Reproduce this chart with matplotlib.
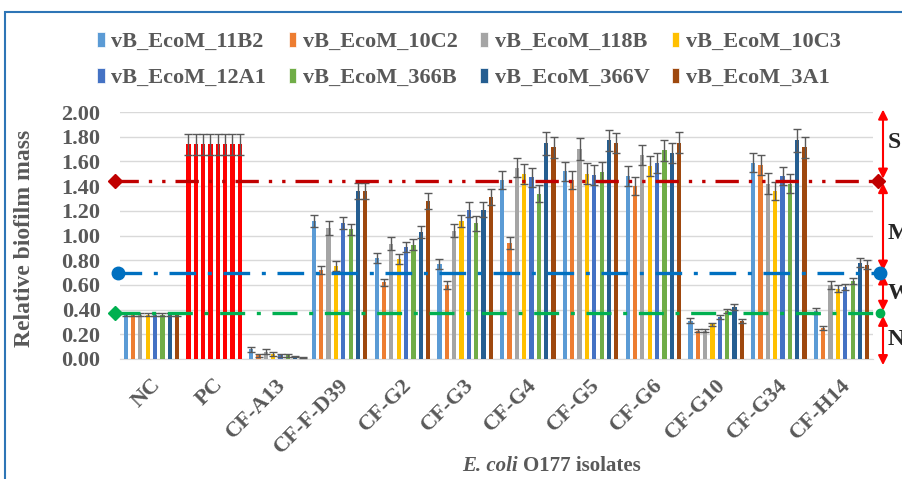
import matplotlib
matplotlib.use('Agg')
import matplotlib.pyplot as plt
import numpy as np
from matplotlib.transforms import ScaledTranslation, blended_transform_factory
from matplotlib.patches import Rectangle, Patch

plt.rcParams['font.family'] = ['Liberation Serif', 'DejaVu Serif']
plt.rcParams['font.weight'] = 'bold'

categories = ["NC", "PC", "CF-A13", "CF-F-D39", "CF-G2", "CF-G3", "CF-G4",
              "CF-G5", "CF-G6", "CF-G10", "CF-G34", "CF-H14"]
series_names = ["vB_EcoM_11B2", "vB_EcoM_10C2", "vB_EcoM_118B", "vB_EcoM_10C3",
                "vB_EcoM_12A1", "vB_EcoM_366B", "vB_EcoM_366V", "vB_EcoM_3A1"]
series_colors = ["#5B9BD5", "#ED7D31", "#A5A5A5", "#FFC000",
                 "#4472C4", "#70AD47", "#255E91", "#9E480E"]
pc_color = "#FF0000"

v_11B2 = [0.36, 1.74, 0.08, 1.12, 0.82, 0.77, 1.45, 1.52, 1.48, 0.31, 1.59, 0.39]
e_11B2 = [0.01, 0.085, 0.02, 0.05, 0.04, 0.04, 0.075, 0.075, 0.08, 0.02, 0.075, 0.025]
v_10C2 = [0.36, 1.74, 0.03, 0.72, 0.62, 0.60, 0.94, 1.45, 1.40, 0.23, 1.57, 0.25]
e_10C2 = [0.01, 0.085, 0.01, 0.035, 0.03, 0.03, 0.05, 0.07, 0.07, 0.01, 0.08, 0.018]
v_118B = [0.36, 1.74, 0.06, 1.06, 0.935, 1.04, 1.55, 1.70, 1.65, 0.23, 1.42, 0.60]
e_118B = [0.01, 0.085, 0.02, 0.055, 0.05, 0.05, 0.08, 0.09, 0.08, 0.012, 0.085, 0.03]
v_10C3 = [0.36, 1.74, 0.04, 0.75, 0.81, 1.12, 1.50, 1.50, 1.56, 0.28, 1.36, 0.57]
e_10C3 = [0.01, 0.085, 0.015, 0.04, 0.04, 0.05, 0.08, 0.085, 0.08, 0.015, 0.075, 0.03]
v_12A1 = [0.36, 1.74, 0.03, 1.10, 0.905, 1.21, 1.47, 1.49, 1.59, 0.34, 1.48, 0.585]
e_12A1 = [0.01, 0.085, 0.01, 0.05, 0.04, 0.06, 0.075, 0.08, 0.08, 0.02, 0.075, 0.025]
v_366B = [0.36, 1.74, 0.03, 1.05, 0.925, 1.10, 1.34, 1.515, 1.69, 0.39, 1.42, 0.63]
e_366B = [0.01, 0.085, 0.01, 0.045, 0.045, 0.06, 0.07, 0.08, 0.085, 0.015, 0.075, 0.025]
v_366V = [0.36, 1.74, 0.02, 1.36, 1.03, 1.21, 1.745, 1.77, 1.67, 0.42, 1.77, 0.78]
e_366V = [0.01, 0.085, 0.005, 0.065, 0.05, 0.06, 0.09, 0.085, 0.08, 0.025, 0.095, 0.035]
v_3A1 = [0.36, 1.74, 0.01, 1.36, 1.28, 1.31, 1.715, 1.75, 1.75, 0.31, 1.715, 0.765]
e_3A1 = [0.01, 0.085, 0.005, 0.065, 0.065, 0.065, 0.085, 0.08, 0.085, 0.015, 0.085, 0.035]

values = [v_11B2, v_10C2, v_118B, v_10C3, v_12A1, v_366B, v_366V, v_3A1]
errors = [e_11B2, e_10C2, e_118B, e_10C3, e_12A1, e_366B, e_366V, e_3A1]

thr_strong = 1.44
thr_moderate = 0.70
thr_weak = 0.37

yticks = [0.0, 0.2, 0.4, 0.6, 0.8, 1.0, 1.2, 1.4, 1.6, 1.8, 2.0]

W, H = 903, 479
fig = plt.figure(figsize=(W / 100, H / 100), dpi=100)
ax = fig.add_axes([120 / W, 1 - 359 / H, 753 / W, 247 / H])

txt_color = '#595959'
x = np.arange(len(categories))
slot = 0.117
width = 0.068
for j, (vals, errs, col) in enumerate(zip(values, errors, series_colors)):
    cols = [col] * len(categories)
    cols[1] = pc_color
    ax.bar(x + (j - 3.5) * slot, vals, width, color=cols, yerr=errs,
           error_kw=dict(ecolor='#595959', elinewidth=1.0, capsize=2.6, capthick=1.0),
           zorder=3)

ax.set_xlim(-0.5, len(categories) - 0.5)
ax.set_ylim(0, 2.0)
ax.set_yticks(yticks)
ax.set_yticklabels([f"{t:.2f}" for t in yticks], fontsize=16, fontweight='bold', color=txt_color)
ax.yaxis.grid(True, color='#D9D9D9', lw=1.0, zorder=0)
ax.set_axisbelow(True)
for s in ['top', 'right', 'left']:
    ax.spines[s].set_visible(False)
ax.spines['bottom'].set_color('#D9D9D9')
ax.tick_params(axis='y', length=0, pad=14)
ax.tick_params(axis='x', length=0)

ax.set_xticks(x)
ax.set_xticklabels(categories, rotation=45, ha='right', va='center',
                   rotation_mode='anchor', fontsize=16, fontweight='bold', color=txt_color)
off = ScaledTranslation(6 / 100, -18 / 100, fig.dpi_scale_trans)
for lab in ax.get_xticklabels():
    lab.set_transform(lab.get_transform() + off)

# threshold lines
bt = blended_transform_factory(ax.transAxes, ax.transData)
x0, x1 = (115 - 120) / 753, (878 - 120) / 753
lw = 2.4
l1, = ax.plot([x0, x1], [thr_strong] * 2, transform=bt, color='#C00000', lw=lw, clip_on=False, zorder=5)
l1.set_dashes([7, 3, 1, 3, 1, 3])
l2, = ax.plot([x0, x1], [thr_moderate] * 2, transform=bt, color='#0070C0', lw=lw, clip_on=False, zorder=5)
l2.set_dashes([8, 3.5, 1.2, 3.5])
l3, = ax.plot([x0, x1], [thr_weak] * 2, transform=bt, color='#00B050', lw=lw, clip_on=False, zorder=5)
l3.set_dashes([7.5, 3.5, 1.2, 3.5])

ax.plot([x0], [thr_strong], transform=bt, marker='D', ms=7, color='#C00000', clip_on=False, zorder=6)
ax.plot([x1], [thr_strong], transform=bt, marker='D', ms=7, color='#C00000', clip_on=False, zorder=6)
ax.plot([x0 + 0.004], [thr_moderate], transform=bt, marker='o', ms=9, color='#0070C0', clip_on=False, zorder=6)
ax.plot([x1 + 0.002], [thr_moderate], transform=bt, marker='o', ms=9, color='#0070C0', clip_on=False, zorder=6)
ax.plot([x0], [thr_weak], transform=bt, marker='D', ms=7, color='#00B050', clip_on=False, zorder=6)
ax.plot([x1 + 0.003], [thr_weak], transform=bt, marker='o', ms=6, color='#00B050', clip_on=False, zorder=6)

# category arrows
xa = (883 - 120) / 753
arrows = [(2.02, 1.46), (1.425, 0.715), (0.685, 0.39), (0.35, -0.05)]
for top, bot in arrows:
    ax.annotate('', xy=(xa, top), xytext=(xa, bot), xycoords=bt, textcoords=bt,
                arrowprops=dict(arrowstyle='<|-|>', color='#FF0000', lw=1.5,
                                mutation_scale=14, shrinkA=0, shrinkB=0),
                annotation_clip=False)
xl = (888 - 120) / 753
for lab, yv in [("S", 1.75), ("M", 1.02), ("W", 0.53), ("N", 0.16)]:
    ax.text(xl, yv, lab, transform=bt, fontsize=17, fontweight='bold',
            color='#262626', ha='left', va='center', clip_on=False)

# y label
fig.text(25 / W, 1 - 238 / H, "Relative biofilm mass", rotation=90, ha='center', va='center',
         fontsize=17, fontweight='bold', color=txt_color)

# x title
fig.text(518 / W, 1 - 466 / H, "E. coli", ha='right', va='center', fontsize=15,
         fontweight='bold', style='italic', color=txt_color)
fig.text(523 / W, 1 - 466 / H, "O177 isolates", ha='left', va='center', fontsize=15,
         fontweight='bold', color=txt_color)

# legend (row-wise order with 4 columns)
handles = [Patch(facecolor=c, edgecolor='white', lw=0.5) for c in series_colors]
order = [0, 4, 1, 5, 2, 6, 3, 7]
leg = fig.legend([handles[i] for i in order], [series_names[i] for i in order],
                 ncol=4, loc='center',
                 bbox_to_anchor=(469 / W, 1 - 60 / H), frameon=False,
                 prop=dict(size=16, weight='bold'), labelcolor=txt_color,
                 handlelength=0.35, handleheight=0.7, handletextpad=0.3,
                 columnspacing=1.0, labelspacing=0.7, borderpad=0)

# outer border
fig.patches.append(Rectangle((5 / W, -0.1), 1.5, 1.1 - 12 / H, transform=fig.transFigure,
                             fill=False, edgecolor='#2E75B6', lw=1.5))

fig.savefig('out.png', dpi=100)
